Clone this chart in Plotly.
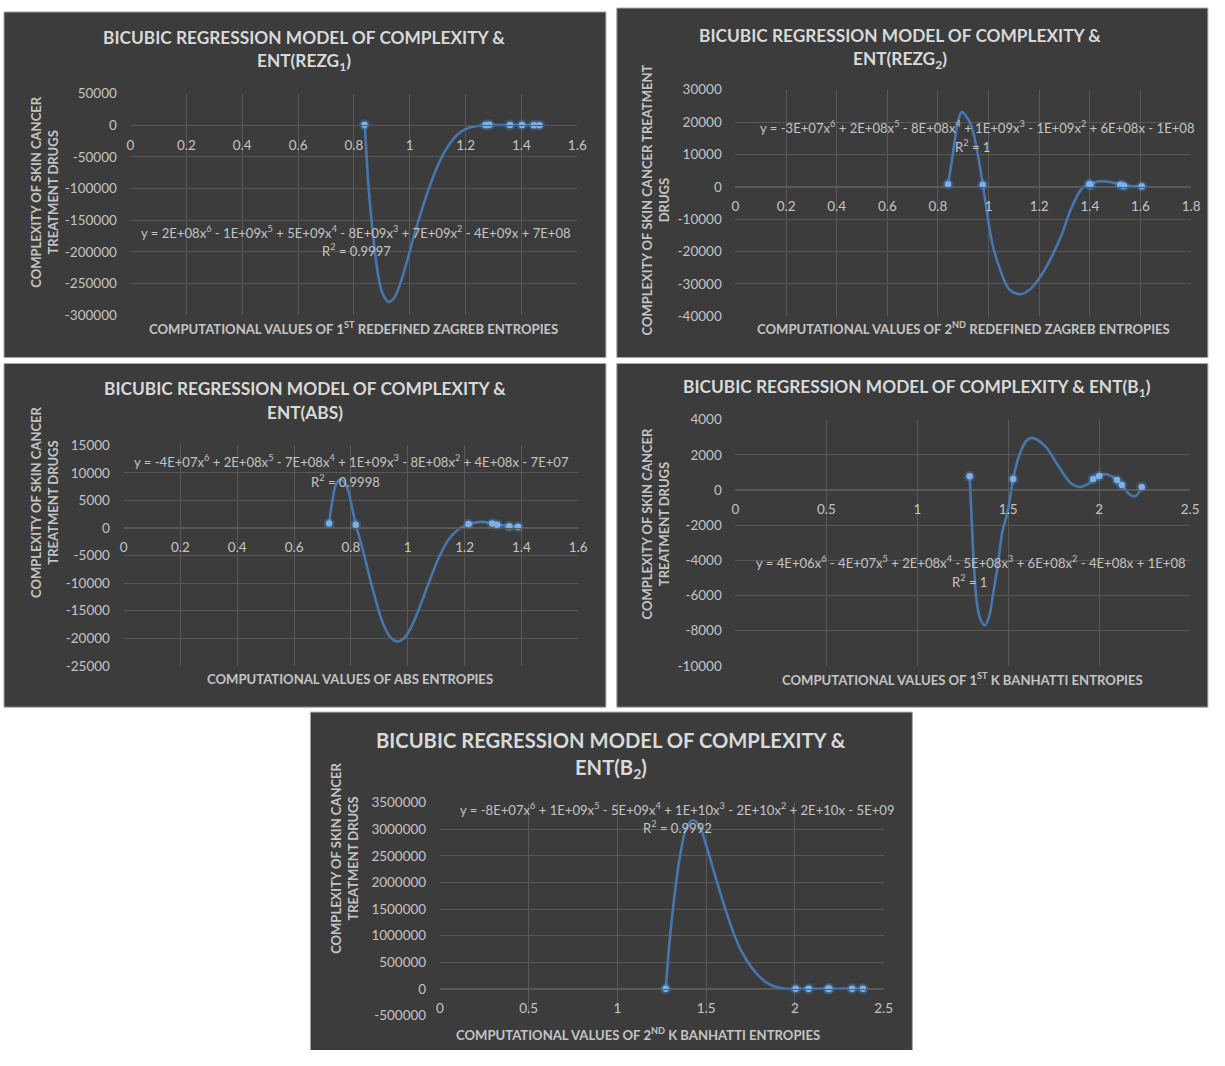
import plotly.graph_objects as go

# Page keeps the browser's default 8px body margin, so the figure is sized
# to fit inside it and every position below is given in page pixels.
PAGE_W, PAGE_H = 1225, 1066
BODY_MARGIN = 8
W, H = PAGE_W - 2 * BODY_MARGIN, PAGE_H - 2 * BODY_MARGIN

# ---------------- data ----------------
# Ent(REZG1) panel
rezg1_x = [0.838, 1.271, 1.285, 1.359, 1.402, 1.444, 1.465]
rezg1_y = [800, 620, 790, 600, 580, 290, 200]
rezg1_fit_x = [0.839, 0.845, 0.852, 0.862, 0.874, 0.888, 0.903, 0.924, 0.945, 0.966,
               0.990, 1.015, 1.040, 1.070, 1.100, 1.130, 1.170, 1.210, 1.250, 1.300,
               1.350, 1.400, 1.465]
rezg1_fit_y = [0, -45000, -95000, -145000, -195000, -240000, -266000, -279000, -272000, -250000,
               -215000, -175000, -138000, -98000, -64000, -38000, -15000, -4000, -500, 300,
               600, 600, 500]
rezg1_xticks = [0, 0.2, 0.4, 0.6, 0.8, 1, 1.2, 1.4, 1.6]
rezg1_yticks = [50000, 0, -50000, -100000, -150000, -200000, -250000, -300000]

# Ent(REZG2) panel
rezg2_x = [0.840, 0.977, 1.398, 1.402, 1.520, 1.535, 1.605]
rezg2_y = [800, 600, 800, 620, 600, 300, 200]
rezg2_fit_x = [0.840, 0.855, 0.867, 0.880, 0.894, 0.910, 0.933, 0.955, 0.977, 0.995,
               1.015, 1.046, 1.082, 1.125, 1.164, 1.222, 1.285, 1.328, 1.371, 1.400,
               1.440, 1.480, 1.520, 1.560, 1.605]
rezg2_fit_y = [800, 8000, 14600, 20500, 23100, 22000, 18600, 11000, 900, -8500,
               -17600, -25600, -31700, -33200, -31700, -25600, -15500, -6400, -300, 800,
               1700, 1500, 700, 250, 200]
rezg2_xticks = [0, 0.2, 0.4, 0.6, 0.8, 1, 1.2, 1.4, 1.6, 1.8]
rezg2_yticks = [30000, 20000, 10000, 0, -10000, -20000, -30000, -40000]

# Ent(ABS) panel
abs_x = [0.723, 0.817, 1.214, 1.297, 1.315, 1.357, 1.388]
abs_y = [800, 600, 700, 800, 600, 300, 200]
abs_fit_x = [0.723, 0.735, 0.748, 0.763, 0.778, 0.790, 0.805, 0.817, 0.840, 0.865,
             0.890, 0.915, 0.940, 0.962, 0.985, 1.010, 1.040, 1.075, 1.110, 1.145,
             1.180, 1.213, 1.257, 1.297, 1.340, 1.388]
abs_fit_y = [800, 5000, 8000, 8800, 8200, 6800, 3500, 600, -3600, -8800,
             -13600, -17600, -19900, -20600, -20100, -18200, -14600, -9800, -5300, -2000,
             -200, 600, 1100, 850, 450, 200]
abs_xticks = [0, 0.2, 0.4, 0.6, 0.8, 1, 1.2, 1.4, 1.6]
abs_yticks = [15000, 10000, 5000, 0, -5000, -10000, -15000, -20000, -25000]

# Ent(B1) panel
b1_x = [1.288, 1.527, 1.967, 2.000, 2.098, 2.125, 2.234]
b1_y = [780, 620, 620, 790, 560, 280, 170]
b1_fit_x = [1.288, 1.298, 1.310, 1.325, 1.345, 1.370, 1.395, 1.413, 1.445, 1.467,
            1.497, 1.527, 1.560, 1.600, 1.630, 1.700, 1.786, 1.848, 1.890, 1.940,
            2.000, 2.035, 2.076, 2.098, 2.125, 2.168, 2.200, 2.234]
b1_fit_y = [780, -1500, -4000, -6200, -7300, -7700, -7200, -6150, -4100, -2400,
            -1230, 616, 1960, 2800, 2960, 2520, 1190, 350, 170, 350,
            790, 910, 730, 560, 280, -260, -350, 170]
b1_xticks = [0, 0.5, 1, 1.5, 2, 2.5]
b1_yticks = [4000, 2000, 0, -2000, -4000, -6000, -8000, -10000]

# Ent(B2) panel
b2_x = [1.272, 2.004, 2.077, 2.188, 2.192, 2.322, 2.383]
b2_y = [800, 620, 600, 790, 580, 300, 200]
b2_fit_x = [1.272, 1.284, 1.297, 1.313, 1.331, 1.353, 1.386, 1.422, 1.460,
            1.500, 1.540, 1.580, 1.620, 1.660, 1.700, 1.750, 1.800, 1.850, 1.900,
            1.950, 2.050, 2.150, 2.250, 2.383]
b2_fit_y = [0, 500000, 1000000, 1500000, 2000000, 2500000, 3000000, 3170000, 3080000,
            2700000, 2250000, 1800000, 1380000, 1000000, 700000, 430000, 230000, 100000, 30000,
            0, 0, 0, 0, 0]
b2_xticks = [0, 0.5, 1, 1.5, 2, 2.5]
b2_yticks = [3500000, 3000000, 2500000, 2000000, 1500000, 1000000, 500000, 0, -500000]

# text
title_line1 = "BICUBIC REGRESSION MODEL OF COMPLEXITY &"
ytitle_a = "COMPLEXITY OF SKIN CANCER<br>TREATMENT DRUGS"
ytitle_b = "COMPLEXITY OF SKIN CANCER TREATMENT<br>DRUGS"

# ---------------- style ----------------
FONT = "Lato"
PANEL_BG = "#3c3c3c"
PANEL_EDGE = "#a8a8a8"
GRID = "#595959"
TICK_C = "#c4c4c4"
TITLE_C = "#d9d9d9"
LINE_C = "#4677b0"
DOT_C = "#7db1e6"
GLOW_C = "rgba(70,145,225,0.30)"


def fx(px):
    return (px - BODY_MARGIN) / W


def fy(py):
    return 1 - (py - BODY_MARGIN) / H


def fmt_tick(v):
    if float(v).is_integer():
        return "%d" % int(v)
    return "%g" % v


panels = [
    dict(px=rezg1_x, py=rezg1_y, fxs=rezg1_fit_x, fys=rezg1_fit_y,
         xt=rezg1_xticks, yt=rezg1_yticks,
         box=(8, 12, 617, 363), area=(136, 95, 588, 320),
         title=[(title_line1, 38), ("ENT(REZG<sub>1</sub>)", 63)], tcx=312, tsize=17.3,
         ytitle=ytitle_a, ytx=49, yty=195,
         xtitle="COMPUTATIONAL VALUES OF 1<sup>ST</sup> REDEFINED ZAGREB ENTROPIES", xtx=362, xty=333,
         eq="y = 2E+08x<sup>6</sup> - 1E+09x<sup>5</sup> + 5E+09x<sup>4</sup> - 8E+09x<sup>3</sup> + 7E+09x<sup>2</sup> - 4E+09x + 7E+08",
         eqx=364, eqy=235, r2="R<sup>2</sup> = 0.9997", r2x=365, r2y=254),
    dict(px=rezg2_x, py=rezg2_y, fxs=rezg2_fit_x, fys=rezg2_fit_y,
         xt=rezg2_xticks, yt=rezg2_yticks,
         box=(628, 8, 1226, 363), area=(748, 91, 1209, 321),
         title=[(title_line1, 36), ("ENT(REZG<sub>2</sub>)", 61)], tcx=914, tsize=17.3,
         ytitle=ytitle_b, ytx=667, yty=203,
         xtitle="COMPUTATIONAL VALUES OF 2<sup>ND</sup> REDEFINED ZAGREB ENTROPIES", xtx=979, xty=333,
         eq="y = -3E+07x<sup>6</sup> + 2E+08x<sup>5</sup> - 8E+08x<sup>4</sup> + 1E+09x<sup>3</sup> - 1E+09x<sup>2</sup> + 6E+08x - 1E+08",
         eqx=993, eqy=129, r2="R<sup>2</sup> = 1", r2x=988, r2y=148),
    dict(px=abs_x, py=abs_y, fxs=abs_fit_x, fys=abs_fit_y,
         xt=abs_xticks, yt=abs_yticks,
         box=(8, 369, 617, 718), area=(129, 452, 589, 676),
         title=[(title_line1, 394), ("ENT(ABS)", 419)], tcx=313, tsize=17.3,
         ytitle=ytitle_a, ytx=49, yty=510,
         xtitle="COMPUTATIONAL VALUES OF ABS ENTROPIES", xtx=358, xty=689,
         eq="y = -4E+07x<sup>6</sup> + 2E+08x<sup>5</sup> - 7E+08x<sup>4</sup> + 1E+09x<sup>3</sup> - 8E+08x<sup>2</sup> + 4E+08x - 7E+07",
         eqx=360, eqy=468, r2="R<sup>2</sup> = 0.9998", r2x=353, r2y=488),
    dict(px=b1_x, py=b1_y, fxs=b1_fit_x, fys=b1_fit_y,
         xt=b1_xticks, yt=b1_yticks,
         box=(628, 369, 1226, 718), area=(748, 426, 1208, 676),
         title=[(title_line1 + " ENT(B<sub>1</sub>)", 394)], tcx=932, tsize=17.3,
         ytitle=ytitle_a, ytx=667, yty=532,
         xtitle="COMPUTATIONAL VALUES OF 1<sup>ST</sup> K BANHATTI ENTROPIES", xtx=978, xty=689,
         eq="y = 4E+06x<sup>6</sup> - 4E+07x<sup>5</sup> + 2E+08x<sup>4</sup> - 5E+08x<sup>3</sup> + 6E+08x<sup>2</sup> - 4E+08x + 1E+08",
         eqx=986, eqy=571, r2="R<sup>2</sup> = 1", r2x=985, r2y=590),
    dict(px=b2_x, py=b2_y, fxs=b2_fit_x, fys=b2_fit_y,
         xt=b2_xticks, yt=b2_yticks,
         box=(318, 723, 927, 1067), area=(449, 815, 898, 1031),
         title=[(title_line1, 751), ("ENT(B<sub>2</sub>)", 780)], tcx=622, tsize=20.2,
         ytitle=ytitle_a, ytx=353, yty=872,
         xtitle="COMPUTATIONAL VALUES OF 2<sup>ND</sup> K BANHATTI ENTROPIES", xtx=649, xty=1050,
         eq="y = -8E+07x<sup>6</sup> + 1E+09x<sup>5</sup> - 5E+09x<sup>4</sup> + 1E+10x<sup>3</sup> - 2E+10x<sup>2</sup> + 2E+10x - 5E+09",
         eqx=689, eqy=821, r2="R<sup>2</sup> = 0.9992", r2x=689, r2y=840),
]

fig = go.Figure()
layout = dict(
    width=W, height=H,
    margin=dict(l=0, r=0, t=0, b=0),
    paper_bgcolor="white",
    plot_bgcolor="rgba(0,0,0,0)",
    showlegend=False,
    shapes=[], annotations=[],
)

for i, p in enumerate(panels, start=1):
    s = "" if i == 1 else str(i)
    xa, ya = "x" + s, "y" + s
    bx0, by0, bx1, by1 = p["box"]
    ax0, ay0, ax1, ay1 = p["area"]
    xr = [min(p["xt"]), max(p["xt"])]
    yr = [min(p["yt"]), max(p["yt"])]

    # panel background
    layout["shapes"].append(dict(type="rect", xref="paper", yref="paper",
                                 x0=fx(bx0), x1=fx(bx1), y0=fy(by1), y1=fy(by0),
                                 fillcolor=PANEL_BG, line=dict(color=PANEL_EDGE, width=1),
                                 layer="below"))

    ydom = [fy(ay1), fy(ay0)]
    zero_pos = ydom[0] + (0 - yr[0]) / (yr[1] - yr[0]) * (ydom[1] - ydom[0])

    layout["xaxis" + s] = dict(
        domain=[fx(ax0), fx(ax1)], range=xr, anchor="free", position=zero_pos,
        tickmode="array", tickvals=p["xt"], ticktext=[fmt_tick(v) for v in p["xt"]],
        showgrid=True, gridcolor=GRID, gridwidth=1, zeroline=False,
        showline=True, linecolor=GRID, linewidth=1,
        ticks="outside", ticklen=7, tickcolor="rgba(0,0,0,0)",
        tickfont=dict(family=FONT, size=13.5, color=TICK_C), fixedrange=True,
    )
    layout["yaxis" + s] = dict(
        domain=ydom, range=yr, anchor=xa,
        tickmode="array", tickvals=p["yt"], ticktext=[fmt_tick(v) for v in p["yt"]],
        showgrid=True, gridcolor=GRID, gridwidth=1, zeroline=False, showline=False,
        ticks="outside", ticklen=10, tickcolor="rgba(0,0,0,0)",
        tickfont=dict(family=FONT, size=13.5, color=TICK_C), fixedrange=True,
    )

    # fitted sextic trend curve
    fig.add_trace(go.Scatter(x=p["fxs"], y=p["fys"], mode="lines", xaxis=xa, yaxis=ya,
                             line=dict(color=LINE_C, width=2.6, shape="spline", smoothing=1.0),
                             hoverinfo="skip"))
    # data points with soft glow
    fig.add_trace(go.Scatter(x=p["px"], y=p["py"], mode="markers", xaxis=xa, yaxis=ya,
                             marker=dict(size=11, color=GLOW_C, line=dict(width=0)),
                             hoverinfo="skip"))
    fig.add_trace(go.Scatter(x=p["px"], y=p["py"], mode="markers", xaxis=xa, yaxis=ya,
                             marker=dict(size=6.5, color=DOT_C, line=dict(width=0))))

    # chart title
    for txt, ty in p["title"]:
        layout["annotations"].append(dict(text="<b>%s</b>" % txt, x=fx(p["tcx"]), y=fy(ty),
                                          xref="paper", yref="paper", xanchor="center", yanchor="middle",
                                          showarrow=False,
                                          font=dict(family=FONT, size=p["tsize"], color=TITLE_C)))
    # axis titles
    layout["annotations"].append(dict(text="<b>%s</b>" % p["ytitle"], x=fx(p["ytx"]), y=fy(p["yty"]),
                                      xref="paper", yref="paper", xanchor="center", yanchor="middle",
                                      textangle=-90, showarrow=False,
                                      font=dict(family=FONT, size=13, color=TICK_C)))
    layout["annotations"].append(dict(text="<b>%s</b>" % p["xtitle"], x=fx(p["xtx"]), y=fy(p["xty"]),
                                      xref="paper", yref="paper", xanchor="center", yanchor="middle",
                                      showarrow=False,
                                      font=dict(family=FONT, size=13.1, color=TICK_C)))
    # trendline equation and R squared
    layout["annotations"].append(dict(text=p["eq"], x=fx(p["eqx"]), y=fy(p["eqy"]),
                                      xref="paper", yref="paper", xanchor="center", yanchor="middle",
                                      showarrow=False,
                                      font=dict(family=FONT, size=13.1, color=TICK_C)))
    layout["annotations"].append(dict(text=p["r2"], x=fx(p["r2x"]), y=fy(p["r2y"]),
                                      xref="paper", yref="paper", xanchor="center", yanchor="middle",
                                      showarrow=False,
                                      font=dict(family=FONT, size=13.1, color=TICK_C)))

fig.update_layout(**layout)
fig.write_html("out.html")
